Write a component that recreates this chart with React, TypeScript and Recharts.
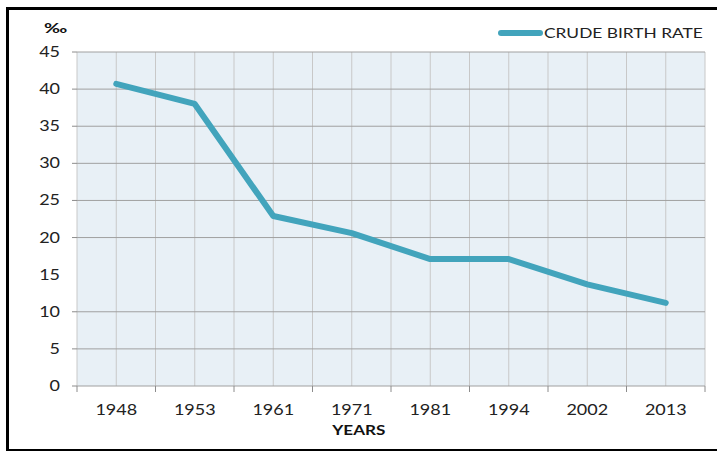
import React from 'react';
import { LineChart, Line, XAxis, YAxis, CartesianGrid } from 'recharts';

const years = ['1948', '1953', '1961', '1971', '1981', '1994', '2002', '2013'];
const birthRate = [40.7, 38.0, 22.9, 20.6, 17.1, 17.1, 13.7, 11.2];
const yTicks = [0, 5, 10, 15, 20, 25, 30, 35, 40, 45];
// the 15 line is missing in the source picture
const gridValues = [0, 5, 10, 20, 25, 30, 35, 40, 45];

const LINE_COLOR = '#42a4bc';
const FONT = 'Lato, "Open Sans", sans-serif';
const STRETCH = 1.2;
const HALF_BAND = 39.25;

const chartData = years.map((year, i) => ({ year, rate: birthRate[i] }));

const XTick = (props: any) => {
    const { x, y, index, payload } = props;
    return (
        <g>
            <line x1={x - HALF_BAND} x2={x - HALF_BAND} y1={y} y2={y + 6} stroke="#8c8c8c" />
            {index === years.length - 1 && (
                <line x1={x + HALF_BAND} x2={x + HALF_BAND} y1={y} y2={y + 6} stroke="#8c8c8c" />
            )}
            <text
                transform={`translate(${x},${y + 29}) scale(${STRETCH},1)`}
                textAnchor="middle"
                fontSize={15}
                fontFamily={FONT}
                fill="#222"
            >
                {payload.value}
            </text>
        </g>
    );
};

const YTick = (props: any) => {
    const { x, y, payload } = props;
    return (
        <g>
            {payload.value !== 15 && <line x1={x - 5} x2={x} y1={y} y2={y} stroke="#8c8c8c" />}
            <text
                transform={`translate(${x - 17},${y + 5}) scale(${STRETCH},1)`}
                textAnchor="end"
                fontSize={15}
                fontFamily={FONT}
                fill="#222"
            >
                {payload.value}
            </text>
        </g>
    );
};

export default function App() {
    return (
        <div style={{ position: 'absolute', top: 0, left: 0, width: 717, height: 452, background: '#fff', overflow: 'hidden' }}>
            <div style={{ position: 'absolute', top: 7, left: 6, right: 0, height: 3, background: '#000' }} />
            <div style={{ position: 'absolute', top: 7, left: 6, width: 3, height: 444, background: '#000' }} />
            <div style={{ position: 'absolute', top: 449, left: 6, right: 0, height: 2, background: '#000' }} />

            <LineChart
                width={717}
                height={452}
                data={chartData}
                margin={{ top: 52, right: 12, bottom: 0, left: 0 }}
                style={{ position: 'absolute', top: 0, left: 0 }}
            >
                <CartesianGrid
                    horizontal={false}
                    fill="#e8f0f6"
                    stroke="#c8c8c8"
                    verticalCoordinatesGenerator={({ offset }: any) =>
                        Array.from({ length: 17 }, (_, i) => offset.left + (i * offset.width) / 16)
                    }
                />
                <CartesianGrid vertical={false} stroke="#a0a0a0" horizontalValues={gridValues} />
                <XAxis
                    dataKey="year"
                    height={66}
                    padding={{ left: HALF_BAND, right: HALF_BAND }}
                    axisLine={false}
                    tickLine={false}
                    tickSize={0}
                    tickMargin={0}
                    interval={0}
                    tick={<XTick />}
                />
                <YAxis
                    width={77}
                    domain={[0, 45]}
                    ticks={yTicks}
                    axisLine={false}
                    tickLine={false}
                    tickSize={0}
                    tickMargin={0}
                    interval={0}
                    tick={<YTick />}
                />
                <Line
                    type="linear"
                    dataKey="rate"
                    name="CRUDE BIRTH RATE"
                    stroke={LINE_COLOR}
                    strokeWidth={6}
                    strokeLinecap="round"
                    strokeLinejoin="round"
                    dot={false}
                    activeDot={false}
                    isAnimationActive={false}
                />
            </LineChart>

            <svg width={215} height={20} style={{ position: 'absolute', top: 23, left: 494 }}>
                <line x1={7} x2={46} y1={10} y2={10} stroke={LINE_COLOR} strokeWidth={6} strokeLinecap="round" />
                <text transform="translate(50,15) scale(1.24,1)" fontSize={14} fontFamily={FONT} fill="#222">
                    CRUDE BIRTH RATE
                </text>
            </svg>

            <div
                style={{
                    position: 'absolute', left: 44, top: 19, fontFamily: FONT, fontWeight: 700,
                    fontSize: 14, color: '#111', transform: 'scaleX(1.4)', transformOrigin: 'left top',
                }}
            >
                ‰
            </div>
            <div
                style={{
                    position: 'absolute', left: 0, width: 717, top: 421, textAlign: 'center', fontFamily: FONT,
                    fontWeight: 700, fontSize: 14, color: '#111', transform: 'scaleX(1.22)', transformOrigin: '357px 0',
                }}
            >
                YEARS
            </div>
        </div>
    );
}
